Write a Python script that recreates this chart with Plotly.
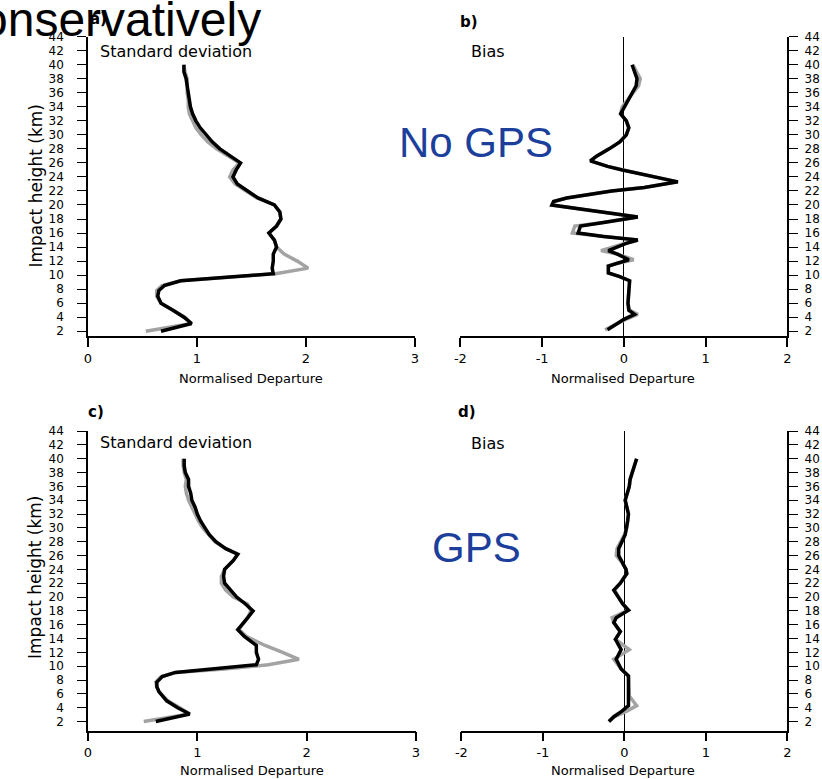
import plotly.graph_objects as go

# ---- profile data: impact height (km) vs normalised departure ----
# a) standard deviation, no GPS
H_A = [40, 39, 38, 37, 36, 35, 34, 33, 32, 31, 30, 29, 28, 27, 26, 25, 24, 23, 22, 21,
       20, 19, 18, 17, 16, 15, 14, 13, 12, 11, 10.2, 9.8, 9.2, 8.5, 7.8, 7, 6, 5, 4, 3.1, 2]
A_BLACK = [0.88, 0.88, 0.90, 0.91, 0.92, 0.93, 0.94, 0.96, 0.99, 1.03, 1.08, 1.14, 1.21, 1.31,
           1.40, 1.36, 1.33, 1.37, 1.46, 1.56, 1.71, 1.76, 1.77, 1.73, 1.66, 1.71, 1.73, 1.70,
           1.70, 1.69, 1.70, 1.35, 0.85, 0.70, 0.65, 0.64, 0.67, 0.78, 0.88, 0.95, 0.67]
A_GREY = [0.88, 0.89, 0.91, 0.91, 0.91, 0.92, 0.92, 0.93, 0.96, 0.99, 1.04, 1.10, 1.18, 1.29,
          1.39, 1.33, 1.30, 1.35, 1.45, 1.55, 1.71, 1.76, 1.77, 1.73, 1.66, 1.71, 1.73, 1.80,
          1.92, 2.02, 1.72, 1.35, 0.85, 0.68, 0.63, 0.63, 0.67, 0.78, 0.89, 0.95, 0.53]

# b) bias, no GPS
H_B = [40, 39, 38, 37, 36, 35, 34, 33, 32, 31, 30, 29, 28, 27, 26.3, 25.5, 25, 24, 23.3, 22.5,
       22, 21, 20.5, 20, 19.3, 18.3, 17.5, 17, 16, 15.5, 15, 14.5, 13.5, 13, 12.2, 11.7, 11.3,
       10.3, 9.8, 9.2, 8, 7, 6, 5, 4.4, 3.7, 3, 2.2]
B_BLACK = [0.10, 0.13, 0.16, 0.15, 0.10, 0.05, 0.01, -0.04, 0.03, 0.06, 0.03, -0.05, -0.18,
           -0.33, -0.41, -0.20, -0.02, 0.38, 0.66, 0.25, -0.15, -0.70, -0.86, -0.88, -0.45,
           0.17, -0.25, -0.53, -0.56, -0.25, 0.17, 0.02, -0.19, -0.08, 0.06, -0.08, -0.19,
           -0.19, -0.05, 0.07, 0.06, 0.05, 0.05, 0.06, 0.13, 0.00, -0.10, -0.20]
B_GREY = [0.11, 0.15, 0.20, 0.18, 0.11, 0.05, -0.02, -0.04, 0.03, 0.06, 0.03, -0.05, -0.18,
          -0.33, -0.41, -0.20, -0.02, 0.38, 0.66, 0.25, -0.15, -0.70, -0.86, -0.88, -0.45,
          0.17, -0.25, -0.60, -0.63, -0.27, 0.17, 0.00, -0.28, -0.08, 0.12, -0.08, -0.19,
          -0.19, -0.05, 0.07, 0.06, 0.05, 0.05, 0.07, 0.17, 0.02, -0.10, -0.23]

# c) standard deviation, GPS
H_C = [40, 39, 38, 37, 36, 35, 34, 33, 32, 31, 30, 29, 28, 27, 26.2, 25.3, 24, 23, 22, 21,
       20, 19, 18, 17, 16, 15.3, 14.3, 13, 12, 11, 10.2, 9.6, 9.1, 8.5, 7.7, 7, 6.3, 5, 4, 3.1, 2]
C_BLACK = [0.88, 0.88, 0.89, 0.92, 0.92, 0.94, 0.95, 0.98, 1.00, 1.03, 1.07, 1.11, 1.17, 1.26,
           1.37, 1.33, 1.25, 1.24, 1.25, 1.30, 1.36, 1.44, 1.51, 1.46, 1.41, 1.37, 1.43, 1.54,
           1.54, 1.56, 1.54, 1.15, 0.80, 0.68, 0.63, 0.63, 0.65, 0.72, 0.82, 0.93, 0.62]
C_GREY = [0.87, 0.87, 0.88, 0.90, 0.89, 0.90, 0.92, 0.95, 0.98, 1.01, 1.05, 1.10, 1.16, 1.26,
          1.37, 1.33, 1.25, 1.22, 1.22, 1.26, 1.33, 1.46, 1.49, 1.46, 1.41, 1.38, 1.45, 1.62,
          1.78, 1.93, 1.65, 1.25, 0.80, 0.67, 0.62, 0.63, 0.65, 0.73, 0.84, 0.93, 0.51]

# d) bias, GPS
H_D = [40, 39, 38, 37, 36, 35, 34, 33, 32, 31, 30, 29, 28, 27, 26, 25, 24, 23.4, 22, 21,
       20, 19, 18.1, 17, 16.3, 15, 13.9, 12.4, 11, 9.6, 8.6, 7, 5.7, 4.3, 3.5, 2.7, 2]
D_BLACK = [0.15, 0.12, 0.10, 0.07, 0.06, 0.04, 0.01, 0.03, 0.05, 0.04, 0.03, 0.01, -0.03,
           -0.07, -0.07, -0.02, 0.02, 0.03, -0.05, -0.13, -0.08, -0.02, 0.05, -0.10, -0.13,
           -0.05, -0.11, -0.04, -0.10, -0.04, 0.05, 0.05, 0.05, 0.05, -0.03, -0.13, -0.19]
D_GREY = [0.15, 0.12, 0.10, 0.07, 0.06, 0.04, 0.01, 0.03, 0.05, 0.04, 0.03, 0.00, -0.04,
          -0.09, -0.10, -0.03, 0.02, 0.03, -0.05, -0.12, -0.07, -0.02, 0.05, -0.15, -0.13,
          -0.05, -0.11, 0.06, -0.13, -0.04, 0.05, 0.05, 0.06, 0.15, 0.03, -0.12, -0.19]

HEIGHT_TICKS = list(range(2, 45, 2))
STD_TICKS = [0, 1, 2, 3]
STD_LABELS = ["0", "1", "2", "3"]
BIAS_TICKS = [-2, -1, 0, 1, 2]
BIAS_LABELS = ["-2", "-1", "0", "1", "2"]

W, H = 822, 779
FONT = "DejaVu Sans"
GREY = "#a3a3a3"
BLUE = "#1d3f9c"


def fx(p):
    return p / W


def fy(p):
    return 1 - p / H


fig = go.Figure()

panels = [
    ("x", "y", H_A, A_GREY, A_BLACK),
    ("x2", "y2", H_B, B_GREY, B_BLACK),
    ("x3", "y3", H_C, C_GREY, C_BLACK),
    ("x4", "y4", H_D, D_GREY, D_BLACK),
]
for xa, ya, hgt, grey, black in panels:
    fig.add_trace(go.Scatter(x=grey, y=hgt, xaxis=xa, yaxis=ya, mode="lines",
                             line=dict(color=GREY, width=3.5), showlegend=False))
    fig.add_trace(go.Scatter(x=black, y=hgt, xaxis=xa, yaxis=ya, mode="lines",
                             line=dict(color="black", width=3.5), showlegend=False))

xtickfont = dict(family=FONT, size=13, color="black")
ytickfont = dict(family=FONT, size=12, color="black")


def xax(domain, rng, tickvals, ticktext, anchor, zero):
    return dict(domain=domain, range=rng, tickvals=tickvals, ticktext=ticktext,
                anchor=anchor, showline=True, linecolor="black", linewidth=1.5,
                ticks="outside", ticklen=9, tickwidth=1.5, tickcolor="black",
                showgrid=False, zeroline=zero, zerolinecolor="black", zerolinewidth=1,
                tickfont=xtickfont, fixedrange=True)


def yax(domain, rng, anchor, side, standoff):
    return dict(domain=domain, range=rng, tickvals=HEIGHT_TICKS, anchor=anchor, side=side,
                showline=True, linecolor="black", linewidth=1.5, ticks="outside",
                ticklen=9, tickwidth=1.2, tickcolor="black", showgrid=False,
                zeroline=False, tickfont=ytickfont, ticklabelstandoff=standoff,
                fixedrange=True)


top = [fy(333), fy(30)]
bottom = [fy(732), fy(429)]

fig.update_layout(
    width=W, height=H,
    margin=dict(l=0, r=0, t=0, b=0),
    paper_bgcolor="white", plot_bgcolor="white",
    xaxis=xax([fx(83), fx(414)], [0, 3], STD_TICKS, STD_LABELS, "y", False),
    yaxis=yax(top, [1.3, 44], "x", "left", 11),
    xaxis2=xax([fx(460), fx(791)], [-2, 2], BIAS_TICKS, BIAS_LABELS, "y2", True),
    yaxis2=yax(top, [1.3, 44], "x2", "right", 4),
    xaxis3=xax([fx(83), fx(415)], [0, 3], STD_TICKS, STD_LABELS, "y3", False),
    yaxis3=yax(bottom, [0.7, 44], "x3", "left", 11),
    xaxis4=xax([fx(461), fx(791)], [-2, 2], BIAS_TICKS, BIAS_LABELS, "y4", True),
    yaxis4=yax(bottom, [0.7, 44], "x4", "right", 4),
)


def note(text, x, y, size, xanchor="left", color="black", family=FONT, angle=0):
    return dict(text=text, x=fx(x), y=fy(y), xref="paper", yref="paper",
                xanchor=xanchor, yanchor="middle", showarrow=False, textangle=angle,
                font=dict(family=family, size=size, color=color))


annotations = [
    note("<b>a)</b>", 83, 12, 15),
    note("<b>b)</b>", 458, 15, 15),
    note("<b>c)</b>", 81, 410, 15),
    note("<b>d)</b>", 456, 410, 15),
    note("Standard deviation", 93, 45, 16),
    note("Standard deviation", 93, 441, 16),
    note("Bias", 469, 45, 16),
    note("Bias", 469, 442, 16),
    note("Normalised Departure", 248, 376, 13, "center"),
    note("Normalised Departure", 625, 376, 13, "center"),
    note("Normalised Departure", 249, 772, 13, "center"),
    note("Normalised Departure", 625, 772, 13, "center"),
    note("Impact height (km)", 30, 181, 17, "center", angle=-90),
    note("Impact height (km)", 30, 577, 17, "center", angle=-90),
    note("No GPS", 476, 137, 42, "center", BLUE, "Liberation Sans"),
    note("GPS", 476, 547, 42, "center", BLUE, "Liberation Sans"),
    note("conservatively", 260, 13, 48, "right", "black", "Liberation Sans"),
]
fig.update_layout(annotations=annotations)

# pin the figure to the top-left corner of the page, without scrollbars
PAGE_JS = (
    "document.documentElement.style.overflow='hidden';"
    "document.body.style.overflow='hidden';"
    "document.body.style.margin='0';"
    "document.body.style.padding='0';"
    "window.scrollTo(0,0);"
)
fig.write_html("out.html", post_script=PAGE_JS)
